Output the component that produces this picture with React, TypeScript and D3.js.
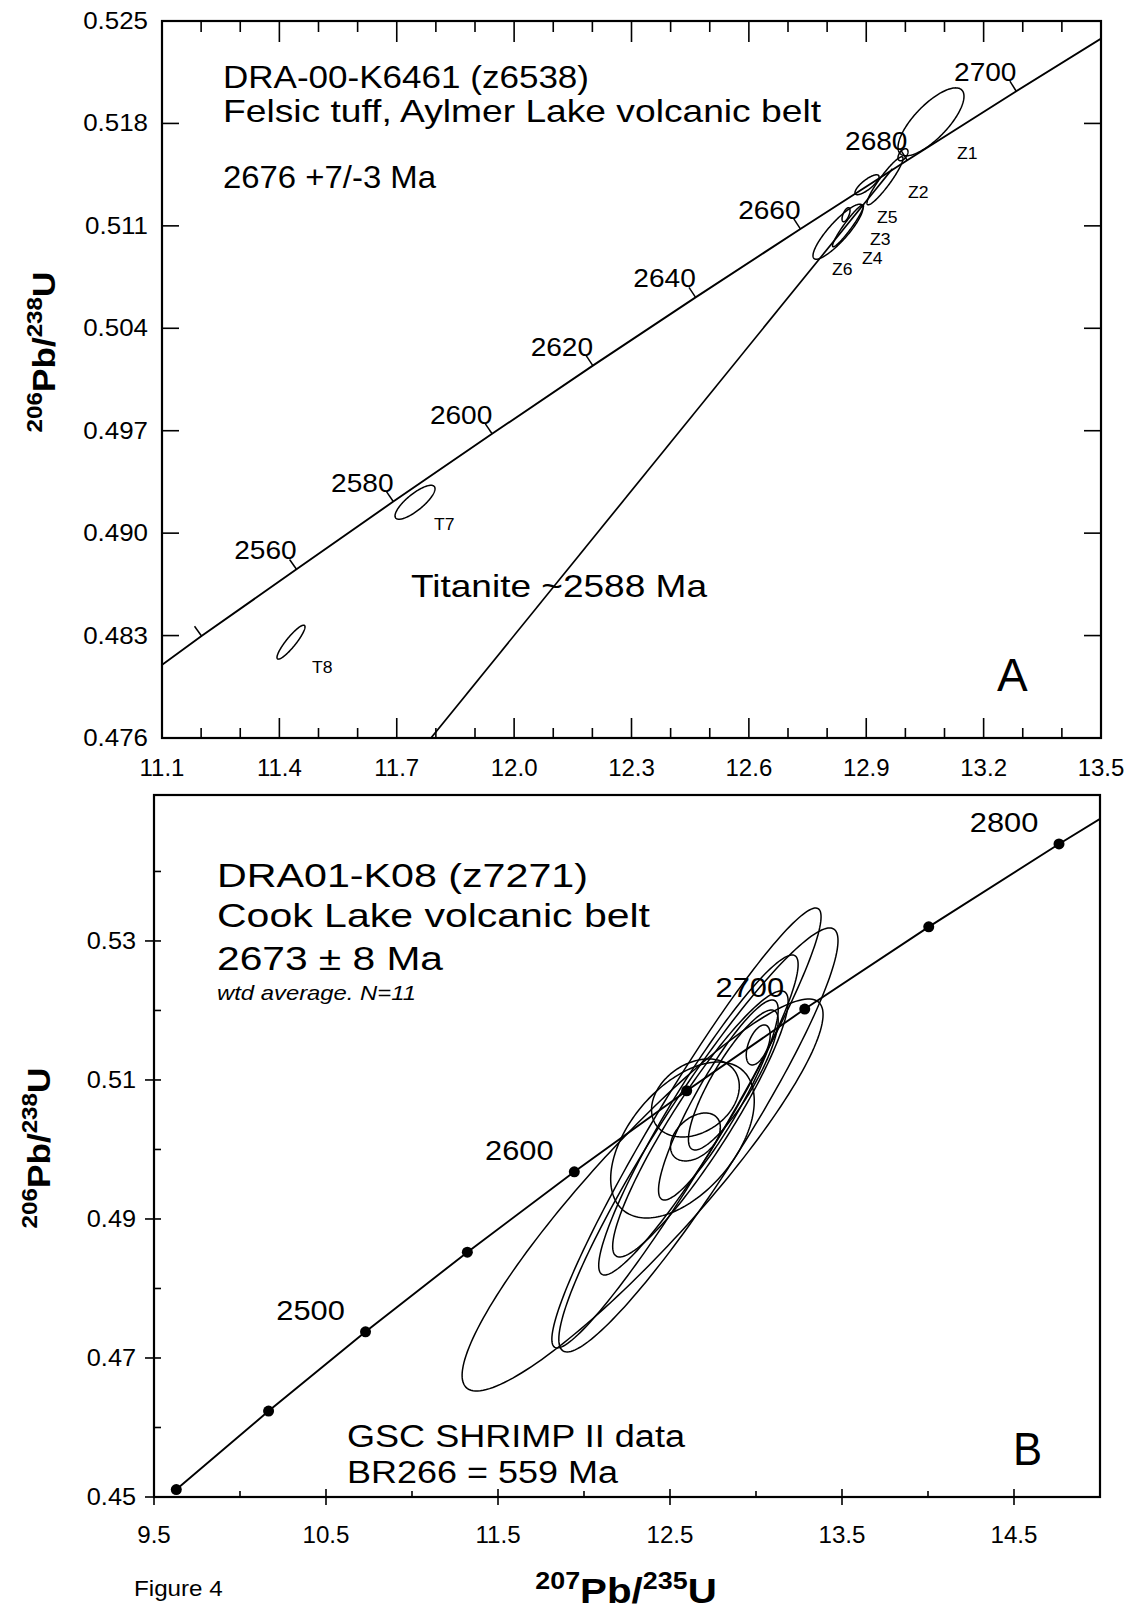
import React from "react";
import * as d3 from "d3";

const FONT = "'Liberation Sans', Arial, Helvetica, sans-serif";

// ---------------- Panel A data ----------------
const xDomainA = [11.1, 13.5];
const yDomainA = [0.476, 0.525];
const xTicksA = [11.1, 11.4, 11.7, 12.0, 12.3, 12.6, 12.9, 13.2, 13.5];
const xMinorTicksA = [11.2, 11.3, 11.5, 11.6, 11.8, 11.9, 12.1, 12.2, 12.4, 12.5, 12.7, 12.8, 13.0, 13.1, 13.3, 13.4];
const yTicksA = [0.476, 0.483, 0.49, 0.497, 0.504, 0.511, 0.518, 0.525];

const concordiaAgesA = [2520, 2540, 2560, 2580, 2600, 2620, 2640, 2660, 2680, 2700, 2720];
const concordiaXA = [10.963, 11.201, 11.4437, 11.6912, 11.9437, 12.2012, 12.4638, 12.7316, 13.0048, 13.2834, 13.5675];
const concordiaYA = [0.47833, 0.48297, 0.48753, 0.49216, 0.49679, 0.50145, 0.50611, 0.51079, 0.51548, 0.5202, 0.52492];
const concordiaTickAgesA = [2540, 2560, 2580, 2600, 2620, 2640, 2660, 2680, 2700];
const concordiaLabelAgesA = [2560, 2580, 2600, 2620, 2640, 2660, 2680, 2700];

const spotNamesA = ["Z1", "z1b", "Z2", "Z5", "Z4", "Z3", "Z6", "T7", "T8"];
const spotXA = [13.0655, 12.9939, 12.9479, 12.9019, 12.8483, 12.8534, 12.8278, 11.7467, 11.4297];
const spotYA = [0.51811, 0.51586, 0.51408, 0.51381, 0.51176, 0.511, 0.5106, 0.49211, 0.48255];
const spotSxA = [0.0843, 0.0128, 0.046, 0.0307, 0.0102, 0.0396, 0.0639, 0.0511, 0.0358];
const spotSyA = [0.00232, 0.00041, 0.00164, 0.00068, 0.00048, 0.00143, 0.00188, 0.00116, 0.00116];
const spotRhoA = [0.75, 0.5, 0.93, 0.8, 0.6, 0.95, 0.87, 0.8, 0.9];

const titaniteLineX = [11.7875, 12.967];
const titaniteLineY = [0.476, 0.5149];

// ---------------- Panel B data ----------------
const xDomainB = [9.5, 15.0];
const yDomainB = [0.45, 0.551];
const xTicksB = [9.5, 10.5, 11.5, 12.5, 13.5, 14.5];
const xMinorTicksB = [10.0, 11.0, 12.0, 13.0, 14.0];
const yTicksB = [0.45, 0.47, 0.49, 0.51, 0.53];
const yMinorTicksB = [0.46, 0.48, 0.5, 0.52, 0.54];

const concordiaAgesB = [2400, 2450, 2500, 2550, 2600, 2650, 2700, 2750, 2800, 2850];
const concordiaXB = [9.6296, 10.1661, 10.7297, 11.3218, 11.9437, 12.5971, 13.2834, 14.0043, 14.7617, 15.5572];
const concordiaYB = [0.45107, 0.46237, 0.47376, 0.48523, 0.49679, 0.50845, 0.5202, 0.53203, 0.54396, 0.55598];
const concordiaDotAgesB = [2400, 2450, 2500, 2550, 2600, 2650, 2700, 2750, 2800];
const concordiaLabelAgesB = [2500, 2600, 2700, 2800];

const spotXB = [12.3406, 12.5957, 12.6652, 12.6652, 12.6768, 12.5725, 12.6478, 12.6478, 13.013, 12.8681, 12.7812];
const spotYB = [0.49345, 0.50309, 0.50137, 0.50496, 0.50367, 0.50137, 0.50741, 0.5018, 0.51504, 0.51, 0.50712];
const spotSxB = [1.0493, 0.7826, 0.8116, 0.5797, 0.5101, 0.4174, 0.2551, 0.1449, 0.0696, 0.2609, 0.3478];
const spotSyB = [0.0282, 0.03165, 0.0305, 0.02302, 0.01914, 0.01122, 0.00561, 0.00345, 0.00288, 0.01007, 0.01439];
const spotRhoB = [0.92, 0.96, 0.94, 0.94, 0.92, 0.5, 0.3, 0.4, 0.5, 0.85, 0.9];

// ---------------- helpers ----------------
type Sc = d3.ScaleLinear<number, number>;

function ellipsePath(cx: number, cy: number, sx: number, sy: number, rho: number, xs: Sc, ys: Sc) {
  const k = Math.sqrt(1 - rho * rho);
  const pts: [number, number][] = d3.range(0, 360, 2).map((deg) => {
    const t = (deg * Math.PI) / 180;
    const x = cx + sx * Math.cos(t);
    const y = cy + sy * (rho * Math.cos(t) + k * Math.sin(t));
    return [xs(x), ys(y)];
  });
  return d3.line().curve(d3.curveLinearClosed)(pts) || "";
}

function Txt(props: {
  x: number; y: number; size: number; anchor?: string; sx?: number; w?: number;
  weight?: string; italic?: boolean; children: React.ReactNode;
}) {
  const { x, y, size, anchor = "start", sx = 1.1, w, weight = "normal", italic = false, children } = props;
  const s = w ? 1 : sx;
  return (
    <text
      transform={`translate(${x},${y}) scale(${s},1)`}
      fontSize={size}
      textAnchor={anchor as any}
      fontWeight={weight}
      fontStyle={italic ? "italic" : "normal"}
      fill="#000"
      {...(w ? { textLength: w, lengthAdjust: "spacingAndGlyphs" } : {})}
    >
      {children}
    </text>
  );
}

export default function App() {
  const xA = d3.scaleLinear().domain(xDomainA).range([162, 1101]);
  const yA = d3.scaleLinear().domain(yDomainA).range([738, 21]);
  const xB = d3.scaleLinear().domain(xDomainB).range([154, 1100]);
  const yB = d3.scaleLinear().domain(yDomainB).range([1497, 795]);

  const line = d3.line();
  const concA: [number, number][] = concordiaXA.map((v, i) => [xA(v), yA(concordiaYA[i])]);
  const concB: [number, number][] = concordiaXB.map((v, i) => [xB(v), yB(concordiaYB[i])]);

  const [ax0, ax1] = xA.range();
  const [ay0, ay1] = yA.range();
  const [bx0, bx1] = xB.range();
  const [by0, by1] = yB.range();

  const tickMarksA = concordiaTickAgesA.map((age) => {
    const i = concordiaAgesA.indexOf(age);
    const p = concA[i];
    const a = concA[Math.max(0, i - 1)];
    const b = concA[Math.min(concA.length - 1, i + 1)];
    const dx = b[0] - a[0];
    const dy = b[1] - a[1];
    const len = Math.hypot(dx, dy);
    const nx = dy / len;
    const ny = -dx / len;
    const L = 12;
    return { age, p, q: [p[0] + nx * L, p[1] + ny * L] as [number, number] };
  });

  const sup = 22;
  return (
    <svg
      width={1143}
      height={1611}
      style={{ position: "absolute", left: 0, top: 0, display: "block", background: "#fff" }}
      fontFamily={FONT}
    >
      <rect x={0} y={0} width={1143} height={1611} fill="#fff" />
      <defs>
        <clipPath id="clipA">
          <rect x={ax0} y={ay1} width={ax1 - ax0} height={ay0 - ay1} />
        </clipPath>
        <clipPath id="clipB">
          <rect x={bx0} y={by1} width={bx1 - bx0} height={by0 - by1} />
        </clipPath>
      </defs>

      {/* ================= PANEL A ================= */}
      <g clipPath="url(#clipA)" fill="none" stroke="#000">
        <path d={line(concA) || ""} strokeWidth={1.9} />
        <path
          d={line(titaniteLineX.map((v, i) => [xA(v), yA(titaniteLineY[i])] as [number, number])) || ""}
          strokeWidth={1.7}
        />
        {spotXA.map((v, i) => (
          <path
            key={"ea" + i}
            d={ellipsePath(v, spotYA[i], spotSxA[i], spotSyA[i], spotRhoA[i], xA, yA)}
            strokeWidth={1.5}
          />
        ))}
        {tickMarksA.map((t) => (
          <line key={"tk" + t.age} x1={t.p[0]} y1={t.p[1]} x2={t.q[0]} y2={t.q[1]} strokeWidth={1.5} />
        ))}
      </g>
      {concordiaLabelAgesA.map((age) => {
        const i = concordiaAgesA.indexOf(age);
        return (
          <Txt key={"la" + age} x={concA[i][0] - 31} y={concA[i][1] - 10} size={26} anchor="middle" sx={1.08}>
            {String(age)}
          </Txt>
        );
      })}

      <rect x={ax0} y={ay1} width={ax1 - ax0} height={ay0 - ay1} fill="none" stroke="#000" strokeWidth={2.2} />
      <g stroke="#000" strokeWidth={1.6}>
        {xMinorTicksA.map((v) => (
          <g key={"xma" + v}>
            <line x1={xA(v)} x2={xA(v)} y1={ay0} y2={ay0 - 10} />
            <line x1={xA(v)} x2={xA(v)} y1={ay1} y2={ay1 + 11} />
          </g>
        ))}
        {xTicksA.slice(1, -1).map((v) => (
          <g key={"xta" + v}>
            <line x1={xA(v)} x2={xA(v)} y1={ay0} y2={ay0 - 20} />
            <line x1={xA(v)} x2={xA(v)} y1={ay1} y2={ay1 + 21} />
          </g>
        ))}
        {yTicksA.slice(1, -1).map((v) => (
          <g key={"yta" + v}>
            <line x1={ax0} x2={ax0 + 17} y1={yA(v)} y2={yA(v)} />
            <line x1={ax1} x2={ax1 - 17} y1={yA(v)} y2={yA(v)} />
          </g>
        ))}
      </g>
      {xTicksA.map((v) => (
        <Txt key={"xla" + v} x={xA(v)} y={776} size={24} anchor="middle" sx={1.0}>
          {v.toFixed(1)}
        </Txt>
      ))}
      {yTicksA.map((v) => (
        <Txt key={"yla" + v} x={148} y={yA(v) + 8} size={24} anchor="end" sx={1.08}>
          {v.toFixed(3)}
        </Txt>
      ))}

      {/* annotations A */}
      <Txt x={223} y={88} size={32} w={366}>DRA-00-K6461 (z6538)</Txt>
      <Txt x={223} y={122} size={32} w={598}>Felsic tuff, Aylmer Lake volcanic belt</Txt>
      <Txt x={223} y={188} size={32} w={213}>2676 +7/-3 Ma</Txt>
      <Txt x={411} y={597} size={32} w={296}>Titanite ~2588 Ma</Txt>
      <Txt x={997} y={691} size={46} sx={1.0}>A</Txt>
      <Txt x={957} y={159} size={16}>Z1</Txt>
      <Txt x={908} y={198} size={16}>Z2</Txt>
      <Txt x={877} y={223} size={16}>Z5</Txt>
      <Txt x={870} y={245} size={16}>Z3</Txt>
      <Txt x={862} y={264} size={16}>Z4</Txt>
      <Txt x={832} y={275} size={16}>Z6</Txt>
      <Txt x={434} y={530} size={16}>T7</Txt>
      <Txt x={312} y={673} size={16}>T8</Txt>

      <text transform="translate(55,352) rotate(-90) scale(1.1,1)" textAnchor="middle" fontWeight="bold" fontSize={32}>
        <tspan fontSize={sup} dy={-13}>206</tspan>
        <tspan dy={13}>Pb/</tspan>
        <tspan fontSize={sup} dy={-13}>238</tspan>
        <tspan dy={13}>U</tspan>
      </text>

      {/* ================= PANEL B ================= */}
      <g clipPath="url(#clipB)" fill="none" stroke="#000">
        <path d={line(concB) || ""} strokeWidth={1.9} />
        {spotXB.map((v, i) => (
          <path
            key={"eb" + i}
            d={ellipsePath(v, spotYB[i], spotSxB[i], spotSyB[i], spotRhoB[i], xB, yB)}
            strokeWidth={1.5}
          />
        ))}
      </g>
      {concordiaDotAgesB.map((age) => {
        const i = concordiaAgesB.indexOf(age);
        return <circle key={"db" + age} cx={concB[i][0]} cy={concB[i][1]} r={5.5} fill="#000" />;
      })}
      {concordiaLabelAgesB.map((age) => {
        const i = concordiaAgesB.indexOf(age);
        return (
          <Txt key={"lb" + age} x={concB[i][0] - 55} y={concB[i][1] - 12} size={28} anchor="middle" sx={1.1}>
            {String(age)}
          </Txt>
        );
      })}

      <rect x={bx0} y={by1} width={bx1 - bx0} height={by0 - by1} fill="none" stroke="#000" strokeWidth={2.2} />
      <g stroke="#000" strokeWidth={1.6}>
        {xTicksB.map((v) => (
          <line key={"xtb" + v} x1={xB(v)} x2={xB(v)} y1={by0 - 8} y2={by0 + 8} />
        ))}
        {xMinorTicksB.map((v) => (
          <line key={"xmb" + v} x1={xB(v)} x2={xB(v)} y1={by0} y2={by0 - 6} />
        ))}
        {yTicksB.map((v) => (
          <line key={"ytb" + v} x1={bx0 - 9} x2={bx0 + 7} y1={yB(v)} y2={yB(v)} />
        ))}
        {yMinorTicksB.map((v) => (
          <line key={"ymb" + v} x1={bx0} x2={bx0 + 7} y1={yB(v)} y2={yB(v)} />
        ))}
      </g>
      {xTicksB.map((v) => (
        <Txt key={"xlb" + v} x={xB(v)} y={1543} size={23} anchor="middle" sx={1.05}>
          {v.toFixed(1)}
        </Txt>
      ))}
      {yTicksB.map((v) => (
        <Txt key={"ylb" + v} x={136} y={yB(v) + 8} size={23} anchor="end" sx={1.1}>
          {v.toFixed(2)}
        </Txt>
      ))}

      {/* annotations B */}
      <Txt x={217} y={887} size={34} w={371}>DRA01-K08 (z7271)</Txt>
      <Txt x={217} y={927} size={34} w={433}>Cook Lake volcanic belt</Txt>
      <Txt x={217} y={970} size={34} w={226}>2673 ± 8 Ma</Txt>
      <Txt x={217} y={1000} size={21} w={199} italic>wtd average. N=11</Txt>
      <Txt x={347} y={1447} size={31} w={338}>GSC SHRIMP II data</Txt>
      <Txt x={347} y={1483} size={31} w={271}>BR266 = 559 Ma</Txt>
      <Txt x={1013} y={1465} size={46} sx={0.95}>B</Txt>

      <text transform="translate(50,1148) rotate(-90) scale(1.1,1)" textAnchor="middle" fontWeight="bold" fontSize={32}>
        <tspan fontSize={sup} dy={-13}>206</tspan>
        <tspan dy={13}>Pb/</tspan>
        <tspan fontSize={sup} dy={-13}>238</tspan>
        <tspan dy={13}>U</tspan>
      </text>

      <text transform="translate(626,1603) scale(1.12,1)" textAnchor="middle" fontWeight="bold" fontSize={36}>
        <tspan fontSize={24} dy={-14}>207</tspan>
        <tspan dy={14}>Pb/</tspan>
        <tspan fontSize={24} dy={-14}>235</tspan>
        <tspan dy={14}>U</tspan>
      </text>

      <Txt x={134} y={1596} size={22} sx={1.1}>Figure 4</Txt>
    </svg>
  );
}
